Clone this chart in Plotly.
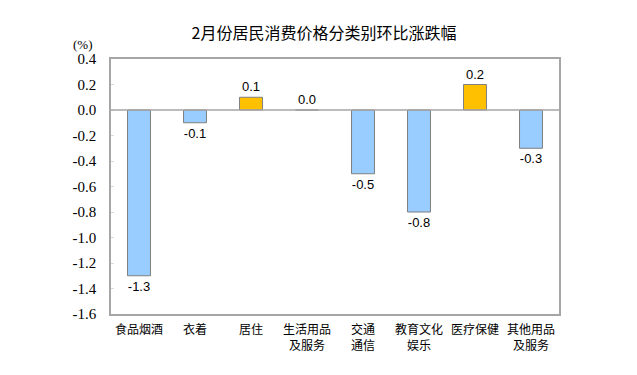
import plotly.graph_objects as go

categories = ["食品烟酒", "衣着", "居住", "生活用品<br>及服务", "交通<br>通信", "教育文化<br>娱乐", "医疗保健", "其他用品<br>及服务"]
values = [-1.3, -0.1, 0.1, 0.0, -0.5, -0.8, 0.2, -0.3]
tick_vals = [0.4, 0.2, 0.0, -0.2, -0.4, -0.6, -0.8, -1.0, -1.2, -1.4, -1.6]
tick_text = [f"{v:.1f}" for v in tick_vals]
title = "2月份居民消费价格分类别环比涨跌幅"

colors = ["#FFC000" if v > 0 else "#99CCFF" for v in values]

fig = go.Figure(go.Bar(
    x=categories, y=values,
    marker=dict(color=colors, line=dict(color="#7F7F7F", width=1)),
    text=[f"{v:.1f}" for v in values],
    textposition="outside",
    textfont=dict(family="Liberation Sans, Arial", size=13, color="#000"),
    cliponaxis=False,
))

fig.update_layout(
    width=637, height=375,
    margin=dict(l=103, r=86, t=51, b=69, autoexpand=False),
    paper_bgcolor="white", plot_bgcolor="white",
    bargap=0.59,
    showlegend=False,
    title=dict(text=title, x=(324 - 8) / 637, xanchor="center", y=1 - 25/375, yanchor="middle",
               font=dict(family="Noto Sans CJK SC", size=16, color="#000")),
    annotations=[dict(text="(%)", xref="paper", yref="paper", x=-0.035, y=1.0, yshift=15,
                      xanchor="right", yanchor="middle", showarrow=False,
                      font=dict(family="Liberation Serif, DejaVu Serif, serif", size=13, color="#000"))],
    shapes=[dict(type="line", xref="paper", x0=0, x1=1, yref="y", y0=0, y1=0,
                 line=dict(color="#A6A6A6", width=1.5))],
)
fig.update_xaxes(
    showline=True, mirror=True, linecolor="#A6A6A6", linewidth=1.5,
    showgrid=False, ticks="", automargin=False, ticklabelstandoff=4,
    tickfont=dict(family="Noto Sans CJK SC", size=12, color="#000"),
)
fig.update_yaxes(
    range=[-1.6, 0.4], tickvals=tick_vals, ticktext=tick_text,
    showline=True, mirror=True, linecolor="#A6A6A6", linewidth=1.5,
    showgrid=False, zeroline=False, ticks="inside", ticklen=3, tickcolor="#D9D9D9",
    tickfont=dict(family="Liberation Serif, DejaVu Serif, serif", size=15, color="#000"),
    ticklabelstandoff=10, automargin=False,
)

fig.write_html("out.html")
